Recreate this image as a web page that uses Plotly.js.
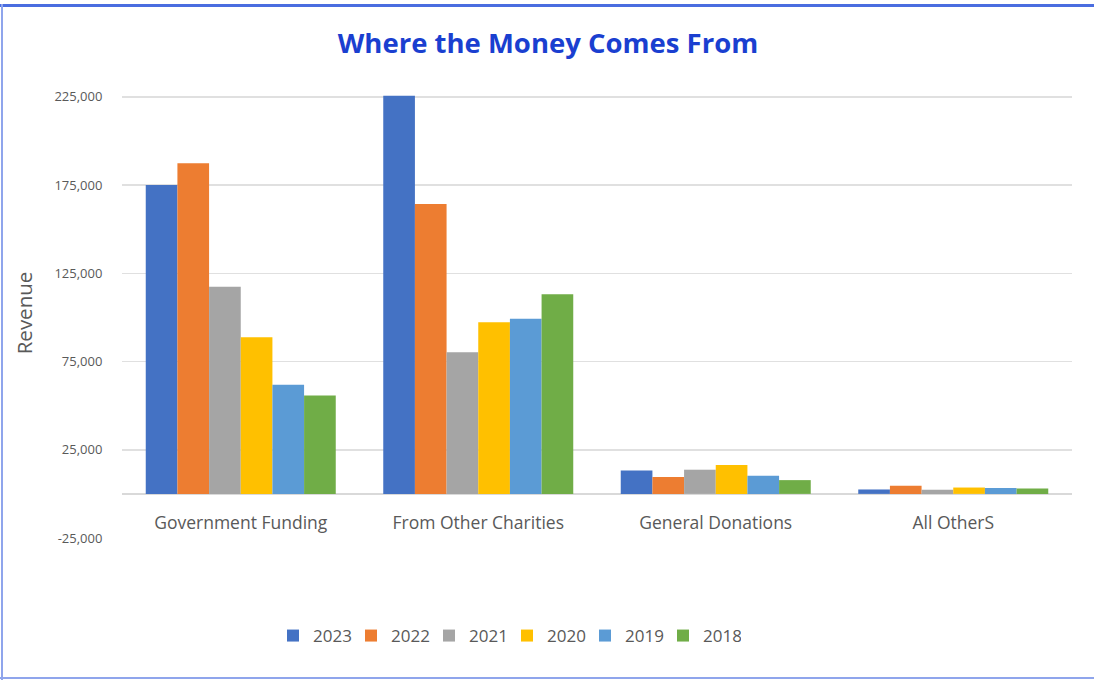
<!DOCTYPE html>
<html>
<head>
<meta charset="utf-8">
<script src="https://cdn.plot.ly/plotly-3.0.1.min.js"></script>
<style>
  html, body { margin: 0; padding: 0; background: #fff; }
  #wrap { position: relative; width: 1094px; height: 680px; overflow: hidden; }
  #chart { position: absolute; left: 0; top: 0; width: 1094px; height: 680px; }
  .b { position: absolute; pointer-events: none; }
</style>
</head>
<body>
<div id="wrap">
  <div id="chart"></div>
  <div class="b" style="left:0;top:4px;width:1094px;height:3px;background:#4a6de0;"></div>
  <div class="b" style="left:1px;top:4px;width:2px;height:676px;background:#8fa5ec;"></div>
  <div class="b" style="left:0;top:677px;width:1094px;height:2px;background:#8fa5ec;"></div>
</div>
<script>
const categories = ["Government Funding", "From Other Charities", "General Donations", "All OtherS"];
const years = ["2023", "2022", "2021", "2020", "2019", "2018"];
const colors = ["#4472C4", "#ED7D31", "#A5A5A5", "#FFC000", "#5B9BD5", "#70AD47"];

const v2023 = [175000, 225600, 13300, 2500];
const v2022 = [187300, 164300, 9500, 4600];
const v2021 = [117400, 80300, 13700, 2300];
const v2020 = [88800, 97300, 16300, 3600];
const v2019 = [61800, 99200, 10300, 3300];
const v2018 = [55700, 113100, 7800, 3000];

const yTicks = [-25000, 25000, 75000, 125000, 175000, 225000];

const series = [v2023, v2022, v2021, v2020, v2019, v2018];
const font = "'Open Sans', 'Noto Sans', sans-serif";

const traces = series.map((vals, i) => ({
  type: "bar",
  name: years[i],
  x: categories,
  y: vals,
  marker: { color: colors[i], line: { width: 0 } },
  hoverinfo: "skip"
}));

const layout = {
  width: 1094,
  height: 680,
  paper_bgcolor: "#ffffff",
  plot_bgcolor: "#ffffff",
  margin: { l: 122, r: 22, t: 88, b: 142, pad: 0 },
  title: {
    text: "<b>Where the Money Comes From</b>",
    font: { family: font, size: 27.5, color: "#1a3fd0" },
    x: 548 / 1094, xanchor: "center",
    y: 1 - 43 / 680, yanchor: "middle",
    xref: "container", yref: "container"
  },
  barmode: "group",
  bargap: 0.2,
  bargroupgap: 0,
  showlegend: true,
  legend: {
    orientation: "h",
    x: (273 - 122) / 950, xanchor: "left",
    y: -(636 - 538) / 450, yanchor: "middle",
    font: { family: font, size: 17, color: "#595959" },
    traceorder: "normal",
    entrywidth: 33,
    itemwidth: 30
  },
  xaxis: {
    type: "category",
    range: [-0.5, 3.5],
    anchor: "free",
    position: 0.062,
    showline: false,
    showgrid: false,
    zeroline: false,
    ticks: "",
    tickfont: { family: font, size: 17.5, color: "#595959" },
    fixedrange: true
  },
  yaxis: {
    range: [-25000, 230000],
    tickvals: yTicks,
    ticktext: yTicks.map(v => v.toLocaleString("en-US")),
    tickfont: { family: font, size: 13, color: "#595959" },
    ticks: "outside",
    ticklen: 16,
    tickcolor: "rgba(0,0,0,0)",
    showgrid: true,
    gridcolor: "#e0e0e0",
    gridwidth: 1.5,
    zeroline: true,
    zerolinecolor: "#d9d9d9",
    zerolinewidth: 2,
    showline: false,
    title: {
      text: "Revenue",
      font: { family: font, size: 20.5, color: "#595959" },
      standoff: 16
    },
    fixedrange: true
  },
  hovermode: false
};

Plotly.newPlot("chart", traces, layout, { displayModeBar: false, staticPlot: true });
</script>
</body>
</html>
